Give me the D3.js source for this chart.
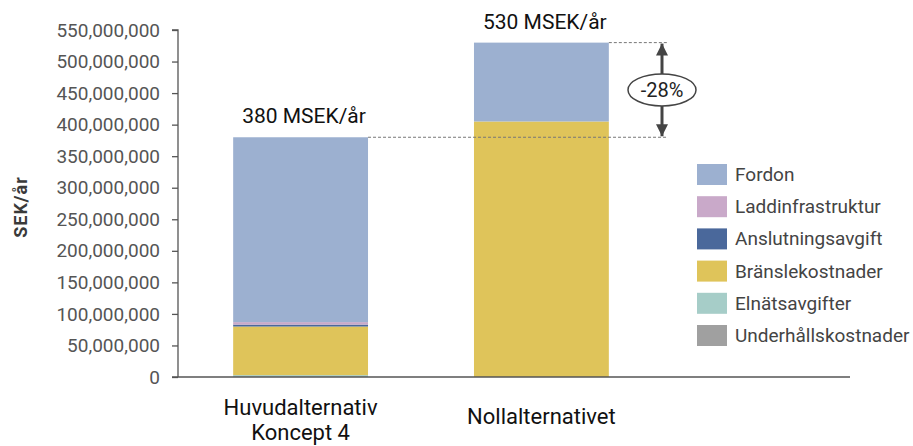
<!DOCTYPE html>
<html>
<head>
<meta charset="utf-8">
<script src="https://cdn.jsdelivr.net/npm/d3@7"></script>
<style>
  html, body { margin: 0; padding: 0; background: #fff; }
  svg { display: block; font-family: "Roboto", "DejaVu Sans", sans-serif; }
</style>
</head>
<body>
<svg id="chart" width="913" height="446"></svg>
<script>
// Scenario names (multi-line labels split on "\n")
const categories = ["Huvudalternativ\nKoncept 4", "Nollalternativet"];
// Cost components, stacked bottom to top
const components = ["Underhållskostnader", "Elnätsavgifter", "Bränslekostnader", "Anslutningsavgift", "Laddinfrastruktur", "Fordon"];
// Annual cost per component (SEK/år) for each scenario
const underhall = [0, 0];
const elnat = [3000000, 0];
const bransle = [77000000, 405000000];
const anslutning = [3000000, 0];
const laddinfra = [4000000, 0];
const fordon = [293000000, 125000000];
// Totals shown above the bars
const totalLabels = ["380 MSEK/år", "530 MSEK/år"];
const changeLabel = "-28%";
const yTicks = [0, 50000000, 100000000, 150000000, 200000000, 250000000, 300000000, 350000000, 400000000, 450000000, 500000000, 550000000];
// Legend order (top to bottom)
const legendOrder = ["Fordon", "Laddinfrastruktur", "Anslutningsavgift", "Bränslekostnader", "Elnätsavgifter", "Underhållskostnader"];

const colors = {
  "Fordon": "#9cb0d0",
  "Laddinfrastruktur": "#c9a9c9",
  "Anslutningsavgift": "#4a689b",
  "Bränslekostnader": "#dfc45a",
  "Elnätsavgifter": "#a6cdc8",
  "Underhållskostnader": "#a0a0a0"
};

const seriesValues = {
  "Underhållskostnader": underhall,
  "Elnätsavgifter": elnat,
  "Bränslekostnader": bransle,
  "Anslutningsavgift": anslutning,
  "Laddinfrastruktur": laddinfra,
  "Fordon": fordon
};

const rows = categories.map((c, i) => {
  const r = { category: c };
  components.forEach(k => r[k] = seriesValues[k][i]);
  return r;
});

const svg = d3.select("#chart");
const axisColor = "#555";
const textColor = "#3a3a3a";

const y = d3.scaleLinear().domain([0, 550000000]).range([377, 30]);
const x = d3.scaleBand().domain(categories).range([185, 657]).paddingInner(0.44).paddingOuter(0.2);

const stacked = d3.stack().keys(components)(rows);

// Bars
svg.append("g").selectAll("g")
  .data(stacked)
  .join("g")
  .attr("fill", d => colors[d.key])
  .selectAll("rect")
  .data(d => d)
  .join("rect")
  .attr("x", d => x(d.data.category))
  .attr("width", x.bandwidth())
  .attr("y", d => y(d[1]))
  .attr("height", d => y(d[0]) - y(d[1]));

// Y axis
const yAxis = svg.append("g")
  .attr("transform", "translate(178,0)")
  .call(d3.axisLeft(y).tickValues(yTicks).tickFormat(d3.format(",")).tickSize(6).tickPadding(12));
yAxis.selectAll("path, line").attr("stroke", axisColor).attr("stroke-width", 1.3);
yAxis.select(".domain").attr("d", `M-6,${y(550000000)}H0V${y(0)}`);
yAxis.selectAll("text").attr("fill", "#555").style("font-size", "19px").style("font-family", "Roboto, sans-serif");

// X axis baseline
svg.append("line")
  .attr("x1", 172).attr("x2", 850)
  .attr("y1", y(0)).attr("y2", y(0))
  .attr("stroke", axisColor).attr("stroke-width", 1.5);

// Y axis title
svg.append("text")
  .attr("transform", "translate(27,207) rotate(-90)")
  .attr("text-anchor", "middle")
  .attr("fill", textColor)
  .style("font-size", "18px")
  .style("font-weight", "bold")
  .style("letter-spacing", "1px")
  .text("SEK/år");

// Category labels
categories.forEach((c, i) => {
  const lines = c.split("\n");
  const cx = x(c) + x.bandwidth() / 2;
  const t = svg.append("text")
    .attr("text-anchor", "middle")
    .attr("fill", "#111")
    .style("font-size", "22px");
  lines.forEach((ln, j) => {
    t.append("tspan")
      .attr("x", cx)
      .attr("y", (lines.length > 1 ? 415 : 424) + j * 25)
      .text(ln);
  });
});

// Totals
const totals = rows.map(r => d3.sum(components, k => r[k]));
totals.forEach((t, i) => {
  svg.append("text")
    .attr("x", x(categories[i]) + 9)
    .attr("y", y(t) - 14)
    .attr("fill", "#111")
    .style("font-size", "21px")
    .text(totalLabels[i]);
});

// Reference lines for the difference
const arrowX = 662;
svg.append("line")
  .attr("x1", x(categories[0]) + x.bandwidth()).attr("x2", arrowX + 6)
  .attr("y1", y(totals[0])).attr("y2", y(totals[0]))
  .attr("stroke", "#777").attr("stroke-width", 1).attr("stroke-dasharray", "3,2");
svg.append("line")
  .attr("x1", x(categories[1]) + x.bandwidth()).attr("x2", arrowX + 6)
  .attr("y1", y(totals[1])).attr("y2", y(totals[1]))
  .attr("stroke", "#777").attr("stroke-width", 1).attr("stroke-dasharray", "3,2");

// Double-headed arrow
const defs = svg.append("defs");
defs.append("marker")
  .attr("id", "head")
  .attr("viewBox", "0 0 10 10")
  .attr("refX", 10).attr("refY", 5)
  .attr("markerWidth", 4.5).attr("markerHeight", 4)
  .attr("orient", "auto-start-reverse")
  .append("path").attr("d", "M0,0L10,5L0,10Z").attr("fill", "#444");
svg.append("line")
  .attr("x1", arrowX).attr("x2", arrowX)
  .attr("y1", y(totals[1]) + 1).attr("y2", y(totals[0]) - 1)
  .attr("stroke", "#444").attr("stroke-width", 3)
  .attr("marker-start", "url(#head)").attr("marker-end", "url(#head)");

const midY = (y(totals[0]) + y(totals[1])) / 2;
svg.append("ellipse")
  .attr("cx", arrowX).attr("cy", midY)
  .attr("rx", 34).attr("ry", 16)
  .attr("fill", "#fff").attr("stroke", "#444").attr("stroke-width", 1.5);
svg.append("text")
  .attr("x", arrowX).attr("y", midY + 7)
  .attr("text-anchor", "middle")
  .attr("fill", "#222")
  .style("font-size", "20px")
  .text(changeLabel);

// Legend
const legend = svg.append("g").attr("transform", "translate(697,164)");
legendOrder.forEach((k, i) => {
  const g = legend.append("g").attr("transform", `translate(0,${i * 32.2})`);
  g.append("rect").attr("width", 30).attr("height", 21).attr("fill", colors[k]);
  g.append("text")
    .attr("x", 38).attr("y", 17)
    .attr("fill", "#444")
    .style("font-size", "19px")
    .text(k);
});
</script>
</body>
</html>
